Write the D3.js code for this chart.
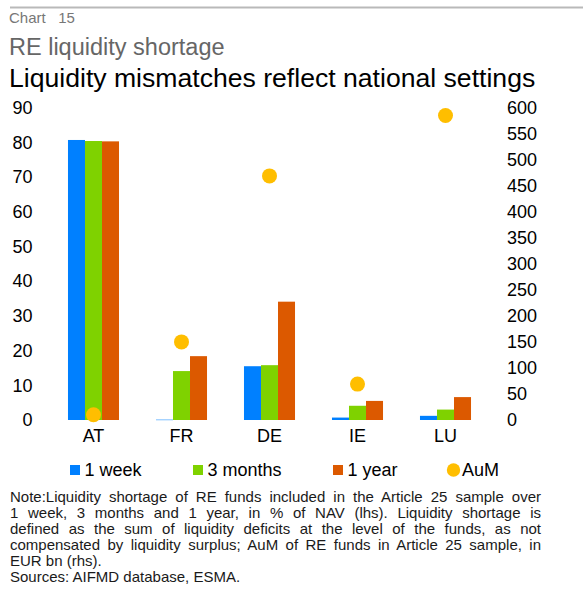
<!DOCTYPE html>
<html>
<head>
<meta charset="utf-8">
<script src="https://cdn.jsdelivr.net/npm/d3@7"></script>
<style>
  body { margin: 0; background: #fff; font-family: "Liberation Sans", Arial, sans-serif; }
  #wrap { position: relative; width: 583px; height: 591px; overflow: hidden; }
  #note { position: absolute; left: 10px; top: 489px; width: 531px; font-size: 15px; line-height: 15.9px; color: #1a1a1a; }
  #note div { white-space: nowrap; }
  #note .j { text-align: justify; text-align-last: justify; }
</style>
</head>
<body>
<div id="wrap">
  <svg id="chart"></svg>
  <div id="note"></div>
</div>
<script>
/*******************
 * Data
 *******************/
const countries = ["AT", "FR", "DE", "IE", "LU"];
const week1 = [80.7, 0.1, 15.5, 0.7, 1.2];     // % of NAV (lhs)
const months3 = [80.4, 14.1, 15.8, 4.1, 3.0];
const year1 = [80.3, 18.4, 34.1, 5.5, 6.6];
const aum = [10, 150, 469, 69, 585];            // EUR bn (rhs)
const leftTicks = [0, 10, 20, 30, 40, 50, 60, 70, 80, 90];
const rightTicks = [0, 50, 100, 150, 200, 250, 300, 350, 400, 450, 500, 550, 600];
const seriesNames = ["1 week", "3 months", "1 year"];
const colors = ["#0080ff", "#7fd200", "#dc5900"];
const aumColor = "#ffbe00";

const noteLines = [
  "Note:Liquidity shortage of RE funds included in the Article 25 sample over",
  "1 week, 3 months and 1 year, in % of NAV (lhs). Liquidity shortage is",
  "defined as the sum of liquidity deficits at the level of the funds, as not",
  "compensated by liquidity surplus; AuM of RE funds in Article 25 sample, in",
  "EUR bn (rhs).",
  "Sources: AIFMD database, ESMA."
];

/*******************
 * Setup
 *******************/
const W = 583, H = 591;
const svg = d3.select("#chart").attr("width", W).attr("height", H)
  .style("position", "absolute").style("left", 0).style("top", 0);

const font = "'Liberation Sans', Arial, sans-serif";

// header
svg.append("line").attr("x1", 10).attr("x2", W).attr("y1", 7.5).attr("y2", 7.5)
  .attr("stroke", "#b9b9b9").attr("stroke-width", 2);
svg.append("text").attr("x", 9).attr("y", 23).text("Chart   15")
  .attr("font-family", font).attr("font-size", 15).attr("fill", "#777")
  .style("white-space", "pre");
svg.append("text").attr("x", 9).attr("y", 55).text("RE liquidity shortage")
  .attr("font-family", font).attr("font-size", 23.5).attr("fill", "#666");
svg.append("text").attr("x", 9).attr("y", 87).text("Liquidity mismatches reflect national settings")
  .attr("font-family", font).attr("font-size", 26.6).attr("fill", "#000");

// scales
const plotLeft = 49.5, plotRight = 489.5, y0 = 420, yTop = 107.7;
const x = d3.scaleBand().domain(countries).range([plotLeft, plotRight])
  .paddingInner(0.42).paddingOuter(0.21);
const xSub = d3.scaleBand().domain(seriesNames).range([0, x.bandwidth()]);
const yL = d3.scaleLinear().domain([0, 90]).range([y0, yTop]);
const yR = d3.scaleLinear().domain([0, 600]).range([y0, yTop]);

// axes (labels only)
const axL = svg.append("g").attr("transform", "translate(32.5,0)")
  .call(d3.axisLeft(yL).tickValues(leftTicks).tickSize(0).tickPadding(0));
const axR = svg.append("g").attr("transform", "translate(507,0)")
  .call(d3.axisRight(yR).tickValues(rightTicks).tickSize(0).tickPadding(0));
const axX = svg.append("g").attr("transform", `translate(0,${y0})`)
  .call(d3.axisBottom(x).tickSize(0).tickPadding(9));
[axL, axR, axX].forEach(a => {
  a.select(".domain").remove();
  a.selectAll("text").attr("font-family", font).attr("font-size", 18).attr("fill", "#000");
});

// bars
const series = [week1, months3, year1];
series.forEach((vals, si) => {
  svg.append("g").selectAll("rect")
    .data(countries.map((c, i) => ({ c, v: vals[i] })))
    .enter().append("rect")
    .attr("x", d => x(d.c) + xSub(seriesNames[si]))
    .attr("width", xSub.bandwidth())
    .attr("y", d => yL(d.v))
    .attr("height", d => Math.max(0.5, y0 - yL(d.v)))
    .attr("fill", colors[si]);
});

// AuM dots
svg.append("g").selectAll("circle")
  .data(countries.map((c, i) => ({ c, v: aum[i] })))
  .enter().append("circle")
  .attr("cx", d => x(d.c) + x.bandwidth() / 2)
  .attr("cy", d => yR(d.v))
  .attr("r", 7.5)
  .attr("fill", aumColor);

// legend
const legendX = [70, 193, 333, 447];
const lg = svg.append("g");
seriesNames.forEach((n, i) => {
  lg.append("rect").attr("x", legendX[i]).attr("y", 465).attr("width", 10).attr("height", 10)
    .attr("fill", colors[i]);
  lg.append("text").attr("x", legendX[i] + 14.5).attr("y", 476).text(n)
    .attr("font-family", font).attr("font-size", 18);
});
lg.append("circle").attr("cx", legendX[3] + 6.5).attr("cy", 470).attr("r", 6.7).attr("fill", aumColor);
lg.append("text").attr("x", legendX[3] + 15).attr("y", 476).text("AuM")
  .attr("font-family", font).attr("font-size", 18);

// note
d3.select("#note").selectAll("div").data(noteLines).enter().append("div")
  .attr("class", (d, i) => i < 4 ? "j" : null)
  .text(d => d);
</script>
</body>
</html>
